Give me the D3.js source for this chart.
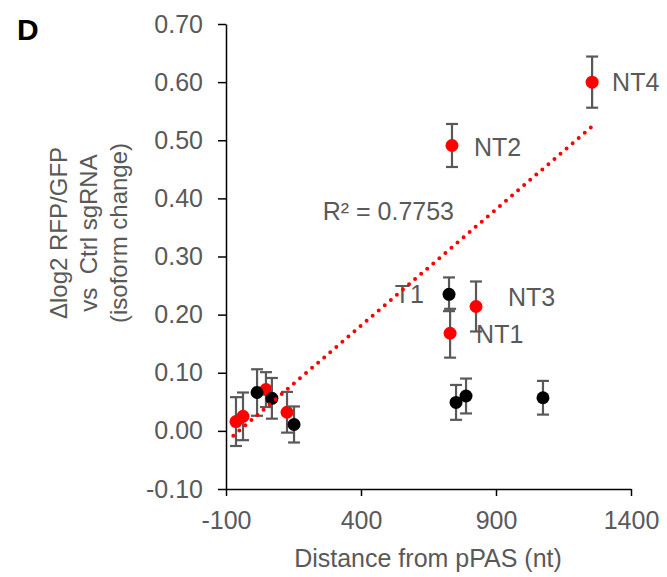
<!DOCTYPE html>
<html>
<head>
<meta charset="utf-8">
<script src="https://cdn.jsdelivr.net/npm/d3@7"></script>
<style>
  html, body { margin: 0; padding: 0; background: #fff; }
  svg { display: block; font-family: "Liberation Sans", Arial, sans-serif; }
</style>
</head>
<body>
<svg id="chart" width="667" height="577"></svg>
<script>
// red series (NT guides)
const redX = [-63, -37, 48, 126, 730, 826, 737, 1256];
const redY = [0.016, 0.025, 0.071, 0.032, 0.168, 0.214, 0.491, 0.600];
const redErr = [0.042, 0.041, 0.030, 0.035, 0.042, 0.043, 0.037, 0.044];

// black series
const blackX = [15, 70, 152, 726, 752, 789, 1074];
const blackY = [0.066, 0.056, 0.011, 0.235, 0.049, 0.060, 0.057];
const blackErr = [0.040, 0.035, 0.031, 0.029, 0.030, 0.030, 0.029];

// point labels: series, index, text
const pointLabels = [
  { series: "red", i: 7, text: "NT4" },
  { series: "red", i: 6, text: "NT2" },
  { series: "red", i: 5, text: "NT3" },
  { series: "red", i: 4, text: "NT1" },
  { series: "black", i: 3, text: "T1" }
];

const xTicks = [-100, 400, 900, 1400];
const xTickLabels = ["-100", "400", "900", "1400"];
const yTicks = [-0.1, 0, 0.1, 0.2, 0.3, 0.4, 0.5, 0.6, 0.7];
const yTickLabels = ["-0.10", "0.00", "0.10", "0.20", "0.30", "0.40", "0.50", "0.60", "0.70"];

const grey = "#595959";
const svg = d3.select("#chart");

const x = d3.scaleLinear().domain([-100, 1400]).range([226, 631]);
const y = d3.scaleLinear().domain([-0.1, 0.7]).range([489, 24]);

const toPoints = (xs, ys, es) => xs.map((v, i) => ({ x: v, y: ys[i], e: es[i] }));
const red = toPoints(redX, redY, redErr);
const black = toPoints(blackX, blackY, blackErr);

// axes
const xAxis = svg.append("g")
  .attr("transform", `translate(0,${y(-0.1)})`)
  .call(d3.axisBottom(x).tickValues(xTicks).tickSize(7).tickPadding(15)
    .tickSizeOuter(0).tickFormat((d, i) => xTickLabels[i]));

const yAxis = svg.append("g")
  .attr("transform", `translate(${x(-100)},0)`)
  .call(d3.axisLeft(y).tickValues(yTicks).tickSize(8).tickPadding(15)
    .tickSizeOuter(0).tickFormat((d, i) => yTickLabels[i]));

[xAxis, yAxis].forEach(g => {
  g.select(".domain").attr("stroke", "#000").attr("stroke-width", 1.5);
  g.selectAll(".tick line").attr("stroke", "#000").attr("stroke-width", 1.5);
  g.selectAll(".tick text").attr("fill", grey).attr("font-size", 25);
});

// error bars + points
const drawSeries = (data, color) => {
  const g = svg.append("g");
  const bars = g.selectAll("g.eb").data(data).join("g")
    .attr("stroke", grey).attr("stroke-width", 2.2);
  bars.append("line")
    .attr("x1", d => x(d.x)).attr("x2", d => x(d.x))
    .attr("y1", d => y(d.y - d.e)).attr("y2", d => y(d.y + d.e));
  bars.append("line")
    .attr("x1", d => x(d.x) - 6).attr("x2", d => x(d.x) + 6)
    .attr("y1", d => y(d.y + d.e)).attr("y2", d => y(d.y + d.e));
  bars.append("line")
    .attr("x1", d => x(d.x) - 6).attr("x2", d => x(d.x) + 6)
    .attr("y1", d => y(d.y - d.e)).attr("y2", d => y(d.y - d.e));
  g.selectAll("circle").data(data).join("circle")
    .attr("cx", d => x(d.x)).attr("cy", d => y(d.y))
    .attr("r", 6.5).attr("fill", color);
};
drawSeries(red, "#ff0000");
drawSeries(black, "#000");

// point labels
const labelOffset = { NT4: [20, 0, "start"], NT2: [22, 2, "start"], NT3: [32, -9, "start"],
  NT1: [26, 1, "start"], T1: [-25, 0, "end"] };
pointLabels.forEach(l => {
  const p = (l.series === "red" ? red : black)[l.i];
  const [dx, dy, anchor] = labelOffset[l.text];
  svg.append("text")
    .attr("x", x(p.x) + dx).attr("y", y(p.y) + dy)
    .attr("dy", "0.36em")
    .attr("text-anchor", anchor)
    .attr("fill", grey).attr("font-size", 25)
    .text(l.text);
});

// linear trendline through red series
const mx = d3.mean(redX), my = d3.mean(redY);
const sxy = d3.sum(redX, (v, i) => (v - mx) * (redY[i] - my));
const sxx = d3.sum(redX, v => (v - mx) ** 2);
const syy = d3.sum(redY, v => (v - my) ** 2);
const slope = sxy / sxx, icpt = my - slope * mx;
const r2 = (sxy * sxy) / (sxx * syy);
const [x0, x1] = d3.extent(redX);

svg.append("text")
  .attr("x", x(258)).attr("y", 220)
  .attr("fill", grey).attr("font-size", 25)
  .text("R² = 0.7753");

svg.append("line")
  .attr("x1", x(x0 - 10)).attr("y1", y(icpt + slope * (x0 - 10)))
  .attr("x2", x(x1)).attr("y2", y(icpt + slope * x1))
  .attr("stroke", "#ff0000").attr("stroke-width", 4)
  .attr("stroke-linecap", "round").attr("stroke-dasharray", "0 8");

// axis titles
svg.append("text")
  .attr("x", 428).attr("y", 567)
  .attr("text-anchor", "middle")
  .attr("fill", grey).attr("font-size", 25)
  .text("Distance from pPAS (nt)");

const yTitle = svg.append("text")
  .attr("transform", "translate(0,233) rotate(-90)")
  .attr("text-anchor", "middle")
  .attr("fill", grey).attr("font-size", 24);
["Δlog2 RFP/GFP", "vs  Ctrl sgRNA", "(isoform change)"].forEach((t, i) => {
  yTitle.append("tspan").attr("x", 0).attr("y", 67 + i * 30)
    .attr("xml:space", "preserve").style("white-space", "pre").text(t);
});

svg.append("text")
  .attr("x", 17).attr("y", 40)
  .attr("font-size", 30).attr("font-weight", "bold")
  .attr("fill", "#000")
  .text("D");
</script>
</body>
</html>
